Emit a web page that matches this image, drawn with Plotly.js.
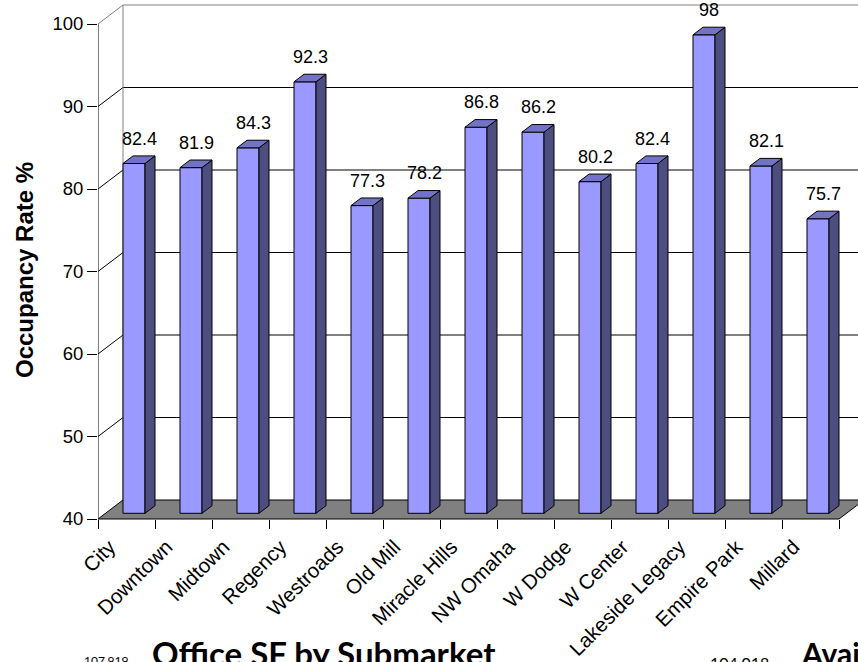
<!DOCTYPE html>
<html>
<head>
<meta charset="utf-8">
<script src="https://cdn.plot.ly/plotly-3.0.1.min.js"></script>
<style>
  html, body { margin: 0; padding: 0; background: #ffffff; }
  #chart { width: 858px; height: 662px; }
</style>
</head>
<body>
<div id="chart"></div>
<script>
// Office occupancy rate by submarket
const submarkets = ["City", "Downtown", "Midtown", "Regency", "Westroads", "Old Mill",
  "Miracle Hills", "NW Omaha", "W Dodge", "W Center", "Lakeside Legacy", "Empire Park", "Millard"];
const occupancy = [82.4, 81.9, 84.3, 92.3, 77.3, 78.2, 86.8, 86.2, 80.2, 82.4, 98, 82.1, 75.7];
const yTickValues = [40, 50, 60, 70, 80, 90, 100];

// ---- frame geometry (pixels) ----
const FIG_W = 858, FIG_H = 662;
const MARGIN_L = 98, MARGIN_T = 0, MARGIN_B = 132;
const PLOT_W = FIG_W - MARGIN_L;              // 760
const PLOT_H = FIG_H - MARGIN_T - MARGIN_B;   // 530
const CAT_PX = 57;        // width of one category
const UNIT_PX = 8.25;     // height of one percentage point
const FLOOR_PX = 519;     // pixel row of the floor front edge
const FLOOR_VAL = yTickValues[0];
const TOP_VAL = yTickValues[yTickValues.length - 1];

const xMin = -0.5, xMax = xMin + PLOT_W / CAT_PX;
const yMin = FLOOR_VAL - (PLOT_H - FLOOR_PX) / UNIT_PX;
const yMax = FLOOR_VAL + FLOOR_PX / UNIT_PX;

// depth of the box, as an oblique offset in data units
const DX = 25 / CAT_PX, DY = 19 / UNIT_PX;
// columns occupy the middle of the depth
const F0 = 0.3, F1 = 0.7;
const BAR_W = 22 / CAT_PX;
const ddx = (F1 - F0) * DX, ddy = (F1 - F0) * DY;

const FONT = '"Liberation Sans", Arial, sans-serif';
const TITLE_FONT = 'Lato, "Open Sans", sans-serif';

const paperX = p => (p - MARGIN_L) / PLOT_W;
const paperY = p => (MARGIN_T + PLOT_H - p) / PLOT_H;

// ---- column faces ----
const frontX = [], frontLen = [];
const sideX = [], sideY = [], topX = [], topY = [];
occupancy.forEach((v, i) => {
  const xc = i + F0 * DX;
  const xl = xc - BAR_W / 2, xr = xc + BAR_W / 2;
  const yb = FLOOR_VAL + F0 * DY, yt = v + F0 * DY;
  frontX.push(xc);
  frontLen.push(v - FLOOR_VAL);
  sideX.push(xr, xr, xr + ddx, xr + ddx, xr, null);
  sideY.push(yb, yt, yt + ddy, yb + ddy, yb, null);
  topX.push(xl, xr, xr + ddx, xl + ddx, xl, null);
  topY.push(yt, yt, yt + ddy, yt + ddy, yt, null);
});

const traces = [
  {
    type: 'bar', x: frontX, y: frontLen, base: FLOOR_VAL + F0 * DY, width: BAR_W,
    marker: { color: '#9999FF', line: { color: '#000000', width: 1 } },
    hoverinfo: 'skip', showlegend: false
  },
  {
    type: 'scatter', mode: 'lines', x: sideX, y: sideY, fill: 'toself',
    fillcolor: '#4D4D80', line: { color: '#000000', width: 1 },
    hoverinfo: 'skip', showlegend: false
  },
  {
    type: 'scatter', mode: 'lines', x: topX, y: topY, fill: 'toself',
    fillcolor: '#7373C6', line: { color: '#000000', width: 1 },
    hoverinfo: 'skip', showlegend: false
  }
];

// ---- walls, floor and gridlines ----
const shapes = [];
const backX0 = xMin + DX;
// floor
const fx0 = xMin, fx1 = submarkets.length - 0.5;
shapes.push({
  type: 'path', xref: 'x', yref: 'y', layer: 'below',
  path: `M${fx0},${FLOOR_VAL} L${fx1},${FLOOR_VAL} L${fx1 + DX},${FLOOR_VAL + DY} L${fx0 + DX},${FLOOR_VAL + DY} Z`,
  fillcolor: '#808080', line: { color: '#000000', width: 1 }
});
// back wall gridlines and side wall diagonals
yTickValues.slice(1).forEach(v => {
  const col = v === TOP_VAL ? '#808080' : '#000000';
  shapes.push({ type: 'line', xref: 'x', yref: 'y', layer: 'below',
    x0: backX0, y0: v + DY, x1: xMax + 1, y1: v + DY, line: { color: col, width: 1 } });
  shapes.push({ type: 'line', xref: 'x', yref: 'y', layer: 'below',
    x0: xMin, y0: v, x1: backX0, y1: v + DY, line: { color: col, width: 1 } });
});
// back corner of the side wall
shapes.push({ type: 'line', xref: 'x', yref: 'y', layer: 'below',
  x0: backX0, y0: FLOOR_VAL + DY, x1: backX0, y1: TOP_VAL + DY, line: { color: '#808080', width: 1 } });
// front value axis line
shapes.push({ type: 'line', xref: 'x', yref: 'y', layer: 'below',
  x0: xMin, y0: FLOOR_VAL, x1: xMin, y1: TOP_VAL, line: { color: '#000000', width: 1 } });

// ---- annotations ----
const annotations = occupancy.map((v, i) => ({
  x: i + (F0 + F1) / 2 * DX, y: v + F0 * DY, xref: 'x', yref: 'y',
  text: String(v), showarrow: false, xanchor: 'center', yanchor: 'bottom', yshift: 13,
  font: { family: FONT, size: 18, color: '#000000' }
}));
annotations.push({
  x: paperX(24), y: paperY(270), xref: 'paper', yref: 'paper',
  text: '<b>Occupancy Rate %</b>', textangle: -90, showarrow: false,
  xanchor: 'center', yanchor: 'middle',
  font: { family: FONT, size: 24, color: '#000000' }
});
annotations.push({
  x: paperX(150), y: paperY(631), xref: 'paper', yref: 'paper',
  text: '<b>Office SF by Submarket</b>', showarrow: false, xanchor: 'left', yanchor: 'top',
  font: { family: TITLE_FONT, size: 33, color: '#000000' }
});
annotations.push({
  x: paperX(799), y: paperY(633), xref: 'paper', yref: 'paper',
  text: '<b>Avai</b>', showarrow: false, xanchor: 'left', yanchor: 'top',
  font: { family: TITLE_FONT, size: 30, color: '#000000' }
});
annotations.push({
  x: paperX(82), y: paperY(651), xref: 'paper', yref: 'paper',
  text: '107,919', showarrow: false, xanchor: 'left', yanchor: 'top',
  font: { family: TITLE_FONT, size: 12, color: '#000000' }
});
annotations.push({
  x: paperX(708), y: paperY(651), xref: 'paper', yref: 'paper',
  text: '104,018', showarrow: false, xanchor: 'left', yanchor: 'top',
  font: { family: TITLE_FONT, size: 16, color: '#000000' }
});

const boundaries = submarkets.map((_, i) => i - 0.5).concat([submarkets.length - 0.5]);
const axisPos = (PLOT_H - FLOOR_PX) / PLOT_H;

const layout = {
  width: FIG_W, height: FIG_H,
  margin: { l: MARGIN_L, r: 0, t: MARGIN_T, b: MARGIN_B, pad: 0 },
  paper_bgcolor: '#ffffff', plot_bgcolor: '#ffffff',
  showlegend: false,
  font: { family: FONT, color: '#000000' },
  xaxis: {
    type: 'linear', range: [xMin, xMax], fixedrange: true,
    anchor: 'free', position: axisPos,
    tickmode: 'array', tickvals: submarkets.map((_, i) => i), ticktext: submarkets,
    tickangle: -45, ticks: '', ticklabelstandoff: 11, ticklabelshift: -17,
    minor: { tickmode: 'array', tickvals: boundaries, ticks: 'outside', ticklen: 9,
      tickwidth: 1, tickcolor: '#000000', showgrid: false },
    tickfont: { family: FONT, size: 20.5, color: '#000000' },
    showgrid: false, zeroline: false, showline: false
  },
  yaxis: {
    type: 'linear', range: [yMin, yMax], fixedrange: true,
    tickmode: 'array', tickvals: yTickValues,
    ticks: 'outside', ticklen: 10, tickwidth: 1, tickcolor: '#000000',
    tickfont: { family: FONT, size: 18.5, color: '#000000' },
    showgrid: false, zeroline: false, showline: false
  },
  bargap: 0,
  shapes: shapes,
  annotations: annotations
};

Plotly.newPlot('chart', traces, layout, { displayModeBar: false, staticPlot: true });
</script>
</body>
</html>
